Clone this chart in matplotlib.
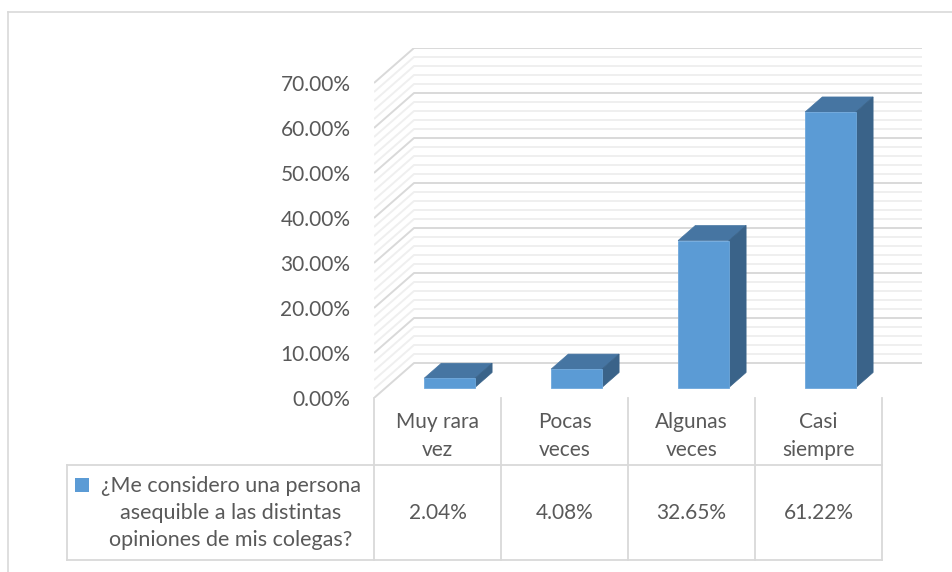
import matplotlib
matplotlib.use("Agg")
import matplotlib.pyplot as plt
from matplotlib.patches import Polygon, Rectangle
from matplotlib.lines import Line2D
from matplotlib.transforms import blended_transform_factory

plt.rcParams["font.family"] = ["Lato", "DejaVu Sans"]

# ---------------------------------------------------
# DATA
# ---------------------------------------------------
categories = ["Muy rara\nvez", "Pocas\nveces", "Algunas\nveces", "Casi\nsiempre"]
values = [2.04, 4.08, 32.65, 61.22]
value_labels = ["2.04%", "4.08%", "32.65%", "61.22%"]
series_name = "¿Me considero una persona\nasequible a las distintas\nopiniones de mis colegas?"
y_ticks = [0, 10, 20, 30, 40, 50, 60, 70]

# ---------------------------------------------------
# STYLE
# ---------------------------------------------------
TEXT = "#595959"
GRID_MAJOR = "#d9d9d9"
GRID_MINOR = "#efefef"
FRONT = "#5b9bd5"
TOP = "#4675a2"
SIDE = "#3a6389"
BORDER = "#d9d9d9"
FS = 15

W, H = 953, 572
fig = plt.figure(figsize=(W / 100, H / 100), dpi=100)

# depth of the 3d box in data units
DX = 40 / 127      # category units
DY = 35 / 4.5      # percent units
YMAX = 70

# axes: left = front floor edge, bottom = 0% at front
ax_left, ax_bottom = 374, 398
ax_w = 4 * 127 + 40
ax_h = 315 + 35
ax = fig.add_axes([ax_left / W, 1 - ax_bottom / H, ax_w / W, ax_h / H])
ax.set_xlim(-0.5, len(categories) - 0.5 + DX)
ax.set_ylim(0, YMAX + DY)
for s in ax.spines.values():
    s.set_visible(False)
ax.set_xticks([])
ax.set_yticks(y_ticks)
ax.set_yticklabels([f"{t:.2f}%" for t in y_ticks])
ax.tick_params(axis="y", length=0, pad=17, labelsize=FS, labelcolor=TEXT)
ax.patch.set_alpha(0)

# ---------------------------------------------------
# WALLS (side + back gridlines)
# ---------------------------------------------------
x0 = -0.5
x1 = len(categories) - 0.5 + DX
for v in range(0, YMAX + 1, 2):
    major = v % 10 == 0
    col = GRID_MAJOR if major else GRID_MINOR
    ax.plot([x0, x0 + DX, x1], [v, v + DY, v + DY], color=col,
            lw=1.4, solid_capstyle="butt", zorder=1 if not major else 2)

# ---------------------------------------------------
# BARS
# ---------------------------------------------------
f0 = 0.3      # bar front depth fraction
bd = 0.43     # bar depth fraction
bw = 0.40     # bar width
xs = list(range(len(categories)))
base = f0 * DY
ax.bar([x + f0 * DX for x in xs], values, width=bw, bottom=base,
       color=FRONT, edgecolor="#6fa8dc", linewidth=0.6, zorder=5)
for x, v in zip(xs, values):
    xl = x + f0 * DX - bw / 2
    xr = x + f0 * DX + bw / 2
    top = base + v
    ax.add_patch(Polygon([(xl, top), (xr, top), (xr + bd * DX, top + bd * DY),
                          (xl + bd * DX, top + bd * DY)],
                         closed=True, facecolor=TOP, edgecolor=TOP, lw=0.5, zorder=4))
    ax.add_patch(Polygon([(xr, base), (xr, top), (xr + bd * DX, top + bd * DY),
                          (xr + bd * DX, base + bd * DY)],
                         closed=True, facecolor=SIDE, edgecolor=SIDE, lw=0.5, zorder=4))

# ---------------------------------------------------
# DATA TABLE
# ---------------------------------------------------
tr = blended_transform_factory(ax.transData, fig.transFigure)
y_top = 1 - 398 / H
y_mid = 1 - 465 / H
y_bot = 1 - 560 / H
bounds = [x - 0.5 for x in xs] + [xs[-1] + 0.5]
for b in bounds:
    fig.add_artist(Line2D([b, b], [y_top, y_bot], transform=tr,
                          color=GRID_MAJOR, lw=1.3))
x_leg = 67 / W
for yy in (y_mid, y_bot):
    fig.add_artist(Line2D([x_leg, (ax_left) / W], [yy, yy], color=GRID_MAJOR, lw=1.3))
    fig.add_artist(Line2D([bounds[0], bounds[-1]], [yy, yy], transform=tr,
                          color=GRID_MAJOR, lw=1.3))
fig.add_artist(Line2D([x_leg, x_leg], [y_mid, y_bot], color=GRID_MAJOR, lw=1.3))

for x, c, lab in zip(xs, categories, value_labels):
    ax.text(x, 1 - 436 / H, c, transform=tr, ha="center", va="center",
            fontsize=FS, color=TEXT, linespacing=1.45, clip_on=False)
    ax.text(x, 1 - 513 / H, lab, transform=tr, ha="center", va="center",
            fontsize=FS, color=TEXT, clip_on=False)

fig.text(231 / W, 1 - 513 / H, series_name, ha="center", va="center",
         multialignment="center", fontsize=15.5, color=TEXT, linespacing=1.45)
fig.add_artist(Rectangle((75 / W, 1 - 492 / H), 14 / W, 14 / H,
                         facecolor=FRONT, edgecolor="none"))

# chart border (top and left visible)
fig.add_artist(Line2D([8 / W, 1], [1 - 12 / H, 1 - 12 / H], color=BORDER, lw=1.2))
fig.add_artist(Line2D([8 / W, 8 / W], [0, 1 - 12 / H], color=BORDER, lw=1.2))

fig.savefig("out.png", dpi=100, facecolor="white")
